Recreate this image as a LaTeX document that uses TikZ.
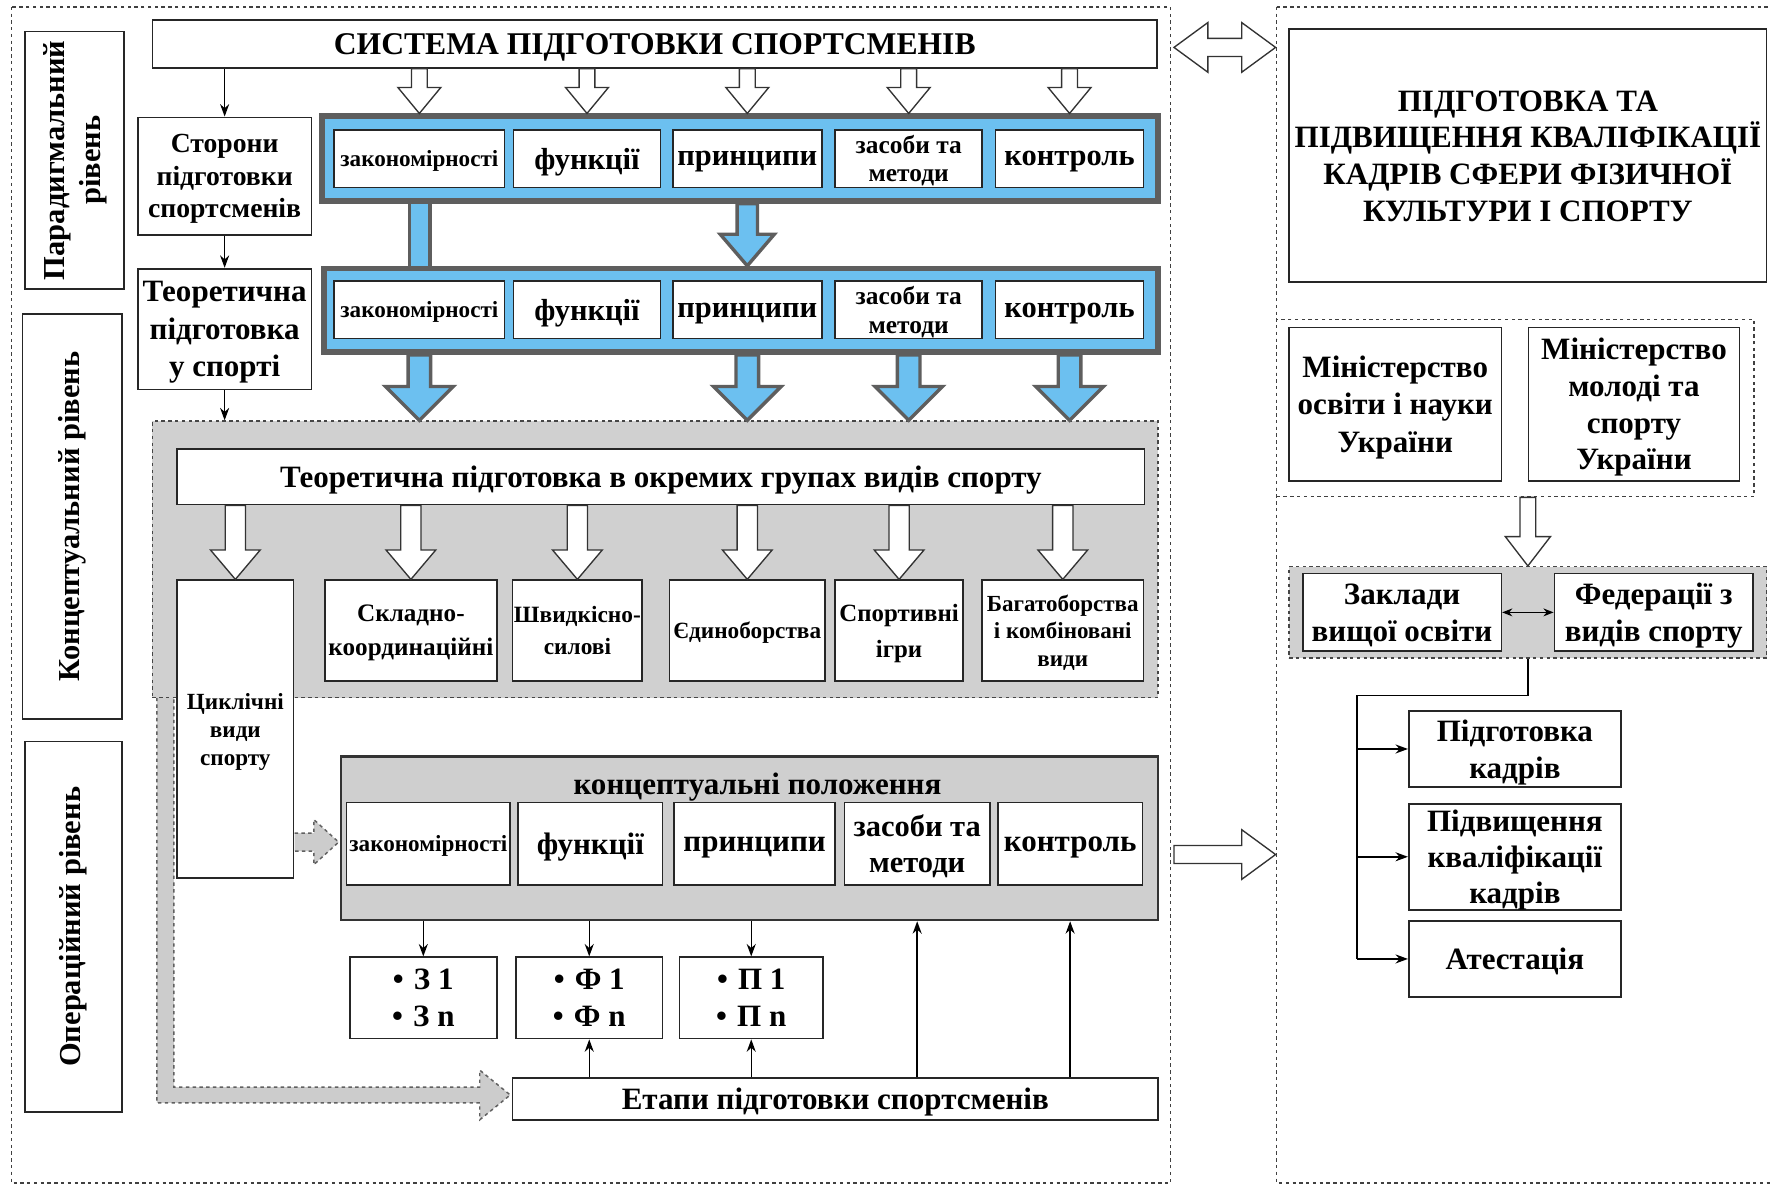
\documentclass[tikz,border=0pt]{standalone}
\usepackage{fontspec}
\setmainfont{Liberation Serif}
\usetikzlibrary{arrows.meta,calc,fit}
\definecolor{bandblue}{HTML}{6CC0F0}
\definecolor{bandgray}{HTML}{5E5E5E}
\definecolor{regiongray}{HTML}{D0D0D0}
\newcommand\fs[2]{\fontsize{#1}{#2}\selectfont}
\tikzset{
  wbox/.style={draw=black!85, line width=1.5pt, fill=white, align=center, inner sep=0pt, text depth=0pt, font=\bfseries},
  bandst/.style={draw=bandgray, fill=bandblue, line width=5pt, inner sep=0pt},
  bluest/.style={draw=bandgray, fill=bandblue, line width=3pt, line join=miter},
  hollow/.style={draw=black!80, fill=white, line width=1.2pt, line join=miter},
  region/.style={draw=gray!55!black, fill=regiongray, dashed, line width=1.3pt, inner sep=0pt},
  dframe/.style={draw=black!75, dashed, line width=1.3pt, inner sep=0pt},
  cbox/.style={draw=black!80, fill=gray!38, line width=2.2pt, inner sep=0pt},
  gdash/.style={draw=gray!75!black, fill=gray!40, dashed, line width=1.3pt, line join=miter},
  arr/.style={-{Stealth[length=11pt,width=8pt]}, line width=1.3pt},
}
\newcommand\bx[7]{%
  \pgfmathsetmacro\bxw{#4-#2}\pgfmathsetmacro\bxh{#5-#3}%
  \pgfmathsetmacro\bxx{(#2+#4)/2}\pgfmathsetmacro\bxy{(#3+#5)/2}%
  \node[wbox,minimum width=\bxw pt,minimum height=\bxh pt,#6] (#1) at (\bxx,\bxy) {#7};}
% style, start, tip, shaft half, head half, head length
\newcommand\hdown[6]{\path[#1] let \p1=#2, \p2=#3 in
  (\x1-#4pt,\y1) -- (\x1+#4pt,\y1) -- (\x1+#4pt,\y2+#6pt) -- (\x1+#5pt,\y2+#6pt) -- (\x1,\y2)
  -- (\x1-#5pt,\y2+#6pt) -- (\x1-#4pt,\y2+#6pt) -- cycle;}
\newcommand\hright[6]{\path[#1] let \p1=#2, \p2=#3 in
  (\x1,\y1+#4pt) -- (\x2-#6pt,\y1+#4pt) -- (\x2-#6pt,\y1+#5pt) -- (\x2,\y1)
  -- (\x2-#6pt,\y1-#5pt) -- (\x2-#6pt,\y1-#4pt) -- (\x1,\y1-#4pt) -- cycle;}
\newcommand\hboth[6]{\path[#1] let \p1=#2, \p2=#3 in
  (\x1,\y1) -- (\x1+#6pt,\y1+#5pt) -- (\x1+#6pt,\y1+#4pt) -- (\x2-#6pt,\y1+#4pt) -- (\x2-#6pt,\y1+#5pt)
  -- (\x2,\y1) -- (\x2-#6pt,\y1-#5pt) -- (\x2-#6pt,\y1-#4pt) -- (\x1+#6pt,\y1-#4pt) -- (\x1+#6pt,\y1-#5pt) -- cycle;}
\newcommand\bul{•\hspace{9pt}}
\begin{document}
\begin{tikzpicture}[x=1pt,y=-1pt]
\useasboundingbox[fill=white] (0,0) rectangle (1568,1051);
% outer frames
\draw[dframe] (10,6) rectangle (1037,1048);
\draw[dframe] (1131,6) -- (1580,6) (1131,6) -- (1131,1048) -- (1580,1048);
% level labels
\bx{lv1}{22}{28}{110}{256}{}{\rotatebox{90}{\fs{27}{35}\begin{tabular}{@{}c@{}}Парадигмальний\\[-3pt]рівень\end{tabular}}}
\bx{lv2}{20}{278}{108}{637}{}{\rotatebox{90}{\fs{27}{30}Концептуальний рівень}}
\bx{lv3}{22}{657}{108}{985}{}{\rotatebox{90}{\fs{27}{30}Операційний рівень}}
% top
\bx{sys}{135}{18}{1025}{60}{font=\bfseries\fs{28}{30}}{СИСТЕМА ПІДГОТОВКИ СПОРТСМЕНІВ}
\bx{stor}{122}{104}{276}{208}{font=\bfseries\fs{24.5}{29}}{Сторони\\підготовки\\спортсменів}
\bx{teor}{122}{238}{276}{345}{font=\bfseries\fs{27.5}{33}}{Теоретична\\підготовка\\у спорті}
% blue bar between bands
\path[bluest] (363,176) rectangle (381,240);
% bands
\node[bandst, fit={(285,103) (1026,178)}] (band1) {};
\node[bandst, fit={(287,238) (1026,312)}] (band2) {};
\bx{a1}{296}{115}{447}{166}{font=\bfseries\fs{20.5}{22}}{закономірності}
\bx{a2}{455}{115}{585}{166}{font=\bfseries\fs{27}{28}}{функції}
\bx{a3}{596}{115}{728}{166}{font=\bfseries\fs{27}{28}}{принципи}
\bx{a4}{740}{115}{870}{166}{font=\bfseries\fs{22.5}{25}}{засоби та\\методи}
\bx{a5}{882}{115}{1013}{166}{font=\bfseries\fs{27}{28}}{контроль}
\bx{b1}{296}{249}{447}{300}{font=\bfseries\fs{20.5}{22}}{закономірності}
\bx{b2}{455}{249}{585}{300}{font=\bfseries\fs{27}{28}}{функції}
\bx{b3}{596}{249}{728}{300}{font=\bfseries\fs{27}{28}}{принципи}
\bx{b4}{740}{249}{870}{300}{font=\bfseries\fs{22.5}{25}}{засоби та\\методи}
\bx{b5}{882}{249}{1013}{300}{font=\bfseries\fs{27}{28}}{контроль}
% hollow arrows from system box
\hdown{hollow}{(a1.center |- sys.south)}{(a1.center |- band1.north)}{7}{19}{23}
\hdown{hollow}{(a2.center |- sys.south)}{(a2.center |- band1.north)}{7}{19}{23}
\hdown{hollow}{(a3.center |- sys.south)}{(a3.center |- band1.north)}{7}{19}{23}
\hdown{hollow}{(a4.center |- sys.south)}{(a4.center |- band1.north)}{7}{19}{23}
\hdown{hollow}{(a5.center |- sys.south)}{(a5.center |- band1.north)}{7}{19}{23}
% blue arrows
\hdown{bluest}{(a3.south |- band1.south)}{(a3.center |- band2.north)}{9}{24}{28}
% gray region
\path[gdash] (139,600) -- (139,977) -- (425,977) -- (425,992) -- (452,970) -- (425,948) -- (425,963) -- (154,963) -- (154,600) -- cycle;
\node[region, fit={(135,373) (1026,618)}] (greg) {};
\hdown{bluest}{(b1.south |- band2.south)}{(b1.center |- greg.north)}{10}{30}{30}
\hdown{bluest}{(b3.south |- band2.south)}{(b3.center |- greg.north)}{10}{30}{30}
\hdown{bluest}{(b4.south |- band2.south)}{(b4.center |- greg.north)}{10}{30}{30}
\hdown{bluest}{(b5.south |- band2.south)}{(b5.center |- greg.north)}{10}{30}{30}
\bx{hdr}{157}{398}{1014}{447}{font=\bfseries\fs{27.5}{30}}{Теоретична підготовка в окремих групах видів спорту}
\bx{s1}{157}{514}{260}{778}{font=\bfseries\fs{20.5}{25}}{Циклічні\\види\\спорту}
\bx{s2}{288}{514}{440}{603}{font=\bfseries\fs{22.3}{30}}{Складно-\\координаційні}
\bx{s3}{454}{514}{569}{603}{font=\bfseries\fs{20.7}{28}}{Швидкісно-\\силові}
\bx{s4}{593}{514}{731}{603}{font=\bfseries\fs{20.6}{24}}{Єдиноборства}
\bx{s5}{740}{514}{853}{603}{font=\bfseries\fs{22}{32}}{Спортивні\\ігри}
\bx{s6}{870}{514}{1013}{603}{font=\bfseries\fs{20.4}{24.5}}{Багатоборства\\і комбіновані\\види}
\hdown{hollow}{(s1.center |- hdr.south)}{(s1.north)}{9}{22}{26}
\hdown{hollow}{(s2.center |- hdr.south)}{(s2.north)}{9}{22}{26}
\hdown{hollow}{(s3.center |- hdr.south)}{(s3.north)}{9}{22}{26}
\hdown{hollow}{(s4.center |- hdr.south)}{(s4.north)}{9}{22}{26}
\hdown{hollow}{(s5.center |- hdr.south)}{(s5.north)}{9}{22}{26}
\hdown{hollow}{(s6.center |- hdr.south)}{(s6.north)}{9}{22}{26}
% concept box
\node[cbox, fit={(302,670) (1026,815)}] (conc) {};
\node[font=\bfseries\fs{27.5}{30}, text depth=0pt] (ctitle) at (671,694) {концептуальні положення};
\bx{c1}{307}{711}{452}{784}{font=\bfseries\fs{20.5}{22}}{закономірності}
\bx{c2}{459}{711}{587}{784}{font=\bfseries\fs{27.5}{30}}{функції}
\bx{c3}{597}{711}{740}{784}{font=\bfseries\fs{27.5}{30}}{принципи}
\bx{c4}{748}{711}{877}{784}{font=\bfseries\fs{27}{32}}{засоби та\\методи}
\bx{c5}{884}{711}{1012}{784}{font=\bfseries\fs{27.5}{30}}{контроль}
\path[gdash] (261,738) -- (278,738) -- (278,726) -- (300,746) -- (278,766) -- (278,754) -- (261,754);
% bullet boxes
\bx{p1}{310}{848}{440}{920}{font=\bfseries\fs{27.5}{33}}{\bul З 1\\\bul З n}
\bx{p2}{457}{848}{587}{920}{font=\bfseries\fs{27.5}{33}}{\bul Ф 1\\\bul Ф n}
\bx{p3}{602}{848}{729}{920}{font=\bfseries\fs{27.5}{33}}{\bul П 1\\\bul П n}
\bx{et}{454}{955}{1026}{992}{font=\bfseries\fs{27.5}{30}}{Етапи підготовки спортсменів}
% thin arrows left
\draw[arr] (stor.north |- sys.south) -- (stor.north);
\draw[arr] (stor.south) -- (teor.north);
\draw[arr] (teor.south) -- (teor.south |- greg.north);
\draw[arr] (p1.north |- conc.south) -- (p1.north);
\draw[arr] (p2.north |- conc.south) -- (p2.north);
\draw[arr] (p3.north |- conc.south) -- (p3.north);
\draw[arr] (p2.south |- et.north) -- (p2.south);
\draw[arr] (p3.south |- et.north) -- (p3.south);
\draw[arr] (c4.south |- et.north) -- (c4.south |- conc.south);
\draw[arr] (c5.south |- et.north) -- (c5.south |- conc.south);
% right side
\bx{big}{1142}{26}{1565}{250}{font=\bfseries\fs{27.5}{32.5}}{ПІДГОТОВКА ТА\\ПІДВИЩЕННЯ КВАЛІФІКАЦІЇ\\КАДРІВ СФЕРИ ФІЗИЧНОЇ\\КУЛЬТУРИ І СПОРТУ}
\node[dframe, fit={(1131,283) (1554,440)}] (rg1) {};
\bx{m1}{1142}{290}{1330}{426}{font=\bfseries\fs{27.5}{33}}{Міністерство\\освіти і науки\\України}
\bx{m2}{1354}{290}{1541}{426}{font=\bfseries\fs{27.5}{32.5}}{Міністерство\\молоді та\\спорту\\України}
\node[region, fit={(1142,502) (1565,583)}] (rg2) {};
\bx{zv}{1154}{508}{1330}{577}{font=\bfseries\fs{27.5}{33}}{Заклади\\вищої освіти}
\bx{fed}{1377}{508}{1553}{577}{font=\bfseries\fs{27.5}{33}}{Федерації з\\видів спорту}
\draw[line width=1.3pt, {Stealth[length=9pt,width=7pt]}-{Stealth[length=9pt,width=7pt]}] (zv.east) -- (fed.west);
\hdown{hollow}{(rg2.north |- rg1.south)}{(rg2.north)}{7}{20}{26}
\bx{pk}{1248}{630}{1436}{697}{font=\bfseries\fs{27.5}{33}}{Підготовка\\кадрів}
\bx{pq}{1248}{712}{1436}{806}{font=\bfseries\fs{27.5}{32}}{Підвищення\\кваліфікації\\кадрів}
\bx{at}{1248}{816}{1436}{883}{font=\bfseries\fs{27.5}{30}}{Атестація}
\coordinate (trunk) at (1202,616);
\draw[line width=1.3pt] (rg2.south) |- (trunk) -- (trunk |- at.west);
\draw[arr] (trunk |- pk.west) -- (pk.west);
\draw[arr] (trunk |- pq.west) -- (pq.west);
\draw[arr] (trunk |- at.west) -- (at.west);
% big hollow arrows between halves
\coordinate (dA) at (1040,42);
\coordinate (dB) at (1130,42);
\hboth{hollow}{(dA)}{(dB)}{8}{22}{30}
\coordinate (rA) at (1040,757);
\coordinate (rB) at (1130,757);
\hright{hollow}{(rA)}{(rB)}{8}{22}{30}
\end{tikzpicture}
\end{document}
